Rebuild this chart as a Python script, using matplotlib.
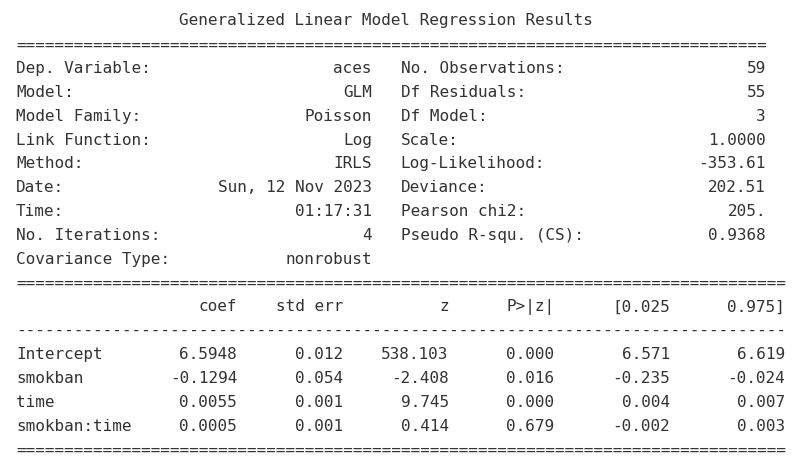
import matplotlib.pyplot as plt

# ================ DATA ===================
title = 'Generalized Linear Model Regression Results'

left_labels = ['Dep. Variable:', 'Model:', 'Model Family:', 'Link Function:', 'Method:',
               'Date:', 'Time:', 'No. Iterations:', 'Covariance Type:']
left_values = ['aces', 'GLM', 'Poisson', 'Log', 'IRLS',
               'Sun, 12 Nov 2023', '01:17:31', '4', 'nonrobust']
right_labels = ['No. Observations:', 'Df Residuals:', 'Df Model:', 'Scale:',
                'Log-Likelihood:', 'Deviance:', 'Pearson chi2:', 'Pseudo R-squ. (CS):']
right_values = ['59', '55', '3', '1.0000', '-353.61', '202.51', '205.', '0.9368']

col_headers = ['coef', 'std err', 'z', 'P>|z|', '[0.025', '0.975]']
terms = ['Intercept', 'smokban', 'time', 'smokban:time']
coef = ['6.5948', '-0.1294', '0.0055', '0.0005']
std_err = ['0.012', '0.054', '0.001', '0.001']
z_vals = ['538.103', '-2.408', '9.745', '0.414']
p_vals = ['0.000', '0.016', '0.000', '0.679']
ci_low = ['6.571', '-0.235', '0.004', '-0.002']
ci_high = ['6.619', '-0.024', '0.007', '0.003']

# ================ LAYOUT ===================
W, H = 799, 463
X0 = 16.0         # left edge of text (px)
CW = 9.615        # character width (px)
Y0 = 20.0         # centre of the title line (px)
LH = 23.83        # line height (px)
BASE = 5.5        # baseline offset below line centre
COLOR = '#333333'
FONT = dict(family='DejaVu Sans Mono', fontsize=11.5, color=COLOR)

fig = plt.figure(figsize=(W / 100, H / 100), dpi=100)
fig.patch.set_facecolor('white')


def put(col, line, s, ha='left'):
    x = X0 + col * CW
    y = Y0 + line * LH + BASE
    fig.text(x / W, 1 - y / H, s, ha=ha, va='baseline', **FONT)


put(17, 0, title)
put(0, 1, '=' * 78)
for i, (lab, val) in enumerate(zip(left_labels, left_values)):
    put(0, 2 + i, lab)
    put(37, 2 + i, val, ha='right')
for i, (lab, val) in enumerate(zip(right_labels, right_values)):
    put(40, 2 + i, lab)
    put(78, 2 + i, val, ha='right')

put(0, 11, '=' * 80)
ends = [23, 34, 45, 56, 68, 80]
for h, e in zip(col_headers, ends):
    put(e, 12, h, ha='right')
put(0, 13, '-' * 80)
columns = [coef, std_err, z_vals, p_vals, ci_low, ci_high]
for r, name in enumerate(terms):
    put(0, 14 + r, name)
    for col, e in zip(columns, ends):
        put(e, 14 + r, col[r], ha='right')
put(0, 18, '=' * 80)

fig.savefig('out.png', dpi=100, facecolor='white')
